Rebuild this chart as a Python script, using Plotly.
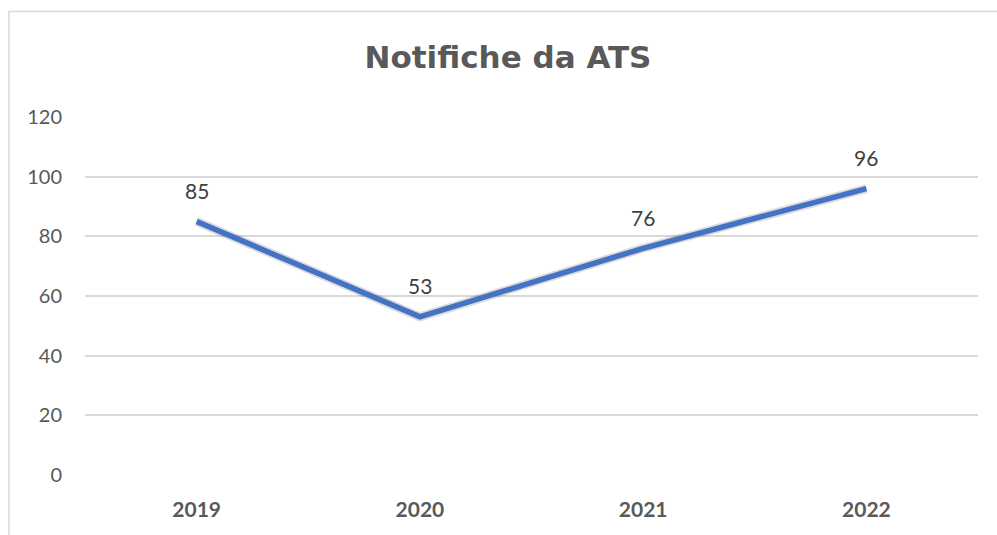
import plotly.graph_objects as go

years = ["2019", "2020", "2021", "2022"]
notifiche = [85, 53, 76, 96]
y_ticks = [0, 20, 40, 60, 80, 100, 120]

W, H = 997, 535
L, R, T, B = 85, 19, 117, 60
pw, ph = W - L - R, H - T - B

FONT = "Lato"
GREY = "#595959"

fig = go.Figure()
# soft shadow
fig.add_trace(go.Scatter(
    x=years, y=notifiche, mode="lines",
    line=dict(color="rgba(0,0,0,0.14)", width=9),
    hoverinfo="skip", showlegend=False,
))
fig.add_trace(go.Scatter(
    x=years, y=notifiche, mode="lines",
    line=dict(color="#4472C4", width=5.5),
    showlegend=False,
))

annotations = [
    dict(x=i, y=v, xref="x", yref="y", text=str(v), showarrow=False, yshift=31,
         xanchor="center", yanchor="middle",
         font=dict(family=FONT, size=21, color="#404040"))
    for i, v in enumerate(notifiche)
]

fig.update_layout(
    width=W, height=H,
    margin=dict(l=L, r=R, t=T, b=B),
    paper_bgcolor="white", plot_bgcolor="white",
    title=dict(text="<b>Notifiche da ATS</b>", x=508 / W, xanchor="center",
               y=1 - 57 / H, yanchor="middle",
               font=dict(family="DejaVu Sans", size=31, color=GREY)),
    xaxis=dict(type="category", range=[-0.5, 3.5], showgrid=False,
               showline=False, zeroline=False, ticks="",
               tickfont=dict(family=FONT, size=21, color=GREY, weight="bold"),
               ticklabelstandoff=20),
    yaxis=dict(range=[0, 120], tickvals=y_ticks, showgrid=True,
               gridcolor="#D9D9D9", gridwidth=1.5, zeroline=False,
               showline=False, ticks="",
               tickfont=dict(family=FONT, size=20, color=GREY),
               ticklabelstandoff=22),
    annotations=annotations,
    shapes=[dict(type="path", xref="paper", yref="paper",
                 path=f"M {(9 - L) / pw},{-0.3} L {(9 - L) / pw},{(H - B - 11.5) / ph} L {1.2},{(H - B - 11.5) / ph}",
                 line=dict(color="#D9D9D9", width=1.5), layer="below")],
)

fig.write_html("out.html", config={"displayModeBar": False},
               post_script="document.body.style.margin='0';document.body.style.overflow='hidden';")
